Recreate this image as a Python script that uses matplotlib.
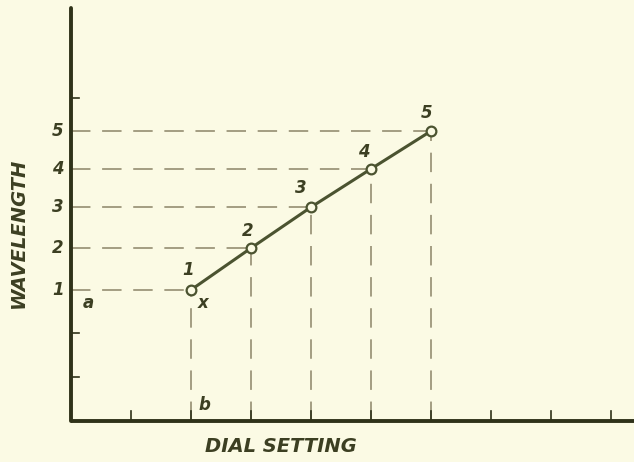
import matplotlib
matplotlib.use("Agg")
import matplotlib.pyplot as plt

# Data (dial setting vs wavelength, arbitrary units)
dial = [2, 3, 4, 5, 6]
wavelength = [2.98, 3.93, 4.86, 5.73, 6.59]
point_labels = ["1", "2", "3", "4", "5"]
x_ticks = [1, 2, 3, 4, 5, 6, 7, 8, 9]
y_ticks = [1, 2, 7.34]

BG = "#fbfae4"
AX = "#2f3219"
LINE = "#4b5330"
DASH = "#a39d82"
TXT = "#3c3f22"

# pixel mapping: 60 px per dial unit, 44 px per wavelength unit
W, H = 634, 462
x0px, y0px = 71, 421
sx, sy = 60.0, 44.0

fig = plt.figure(figsize=(W / 100, H / 100), dpi=100, facecolor=BG)
ax = fig.add_axes([0, 0, 1, 1])
ax.set_facecolor(BG)
ax.set_xlim(-x0px / sx, (W - x0px) / sx)
ax.set_ylim((y0px - H) / sy, y0px / sy)
ax.axis("off")

# axes lines
ax.plot([0, 0], [0, (y0px - 8) / sy], color=AX, lw=2.8, solid_capstyle="round", zorder=3)
ax.plot([0, (W - x0px) / sx], [0, 0], color=AX, lw=2.8, solid_capstyle="butt", zorder=3)

# small ticks
for xt in x_ticks:
    ax.plot([xt, xt], [0, 10 / sy], color=AX, lw=1.2, zorder=3)
for yt in y_ticks:
    ax.plot([0, 8 / sx], [yt, yt], color=AX, lw=1.2, zorder=3)

# dashed projection lines
for xv, yv in zip(dial, wavelength):
    ax.plot([0, xv], [yv, yv], color=DASH, lw=1.4, dashes=(10, 6), zorder=2)
    ax.plot([xv, xv], [0, yv], color=DASH, lw=1.4, dashes=(10, 6), zorder=2)

# data line with open circles
ax.plot(dial, wavelength, color=LINE, lw=2.2, zorder=4,
        marker="o", ms=7, mfc=BG, mec=LINE, mew=1.6)

fkw = dict(color=TXT, style="italic", fontweight="bold", family="DejaVu Sans")

# labels at points
offs = [(-3, 20), (-3, 17), (-10, 19), (-7, 17), (-4, 18)]
for (xv, yv), lab, (dx, dy) in zip(zip(dial, wavelength), point_labels, offs):
    ax.text(xv + dx / sx, yv + dy / sy, lab, ha="center", va="center", fontsize=12, **fkw)

# labels on y axis
for yv, lab in zip(wavelength, point_labels):
    ax.text(-13 / sx, yv, lab, ha="center", va="center", fontsize=12, **fkw)

ax.text(17 / sx, 2.98 - 13 / sy, "a", ha="center", va="center", fontsize=12, **fkw)
ax.text(2 + 12 / sx, 2.98 - 13 / sy, "x", ha="center", va="center", fontsize=12, **fkw)
ax.text(2 + 13 / sx, 16 / sy, "b", ha="center", va="center", fontsize=12, **fkw)

ax.text((18 - x0px) / sx, (y0px - 233) / sy, "WAVELENGTH", rotation=90,
        ha="center", va="center", fontsize=14, **fkw)
ax.text((281 - x0px) / sx, (y0px - 447) / sy, "DIAL SETTING",
        ha="center", va="center", fontsize=14, **fkw)

fig.savefig("out.png", dpi=100, facecolor=BG)
